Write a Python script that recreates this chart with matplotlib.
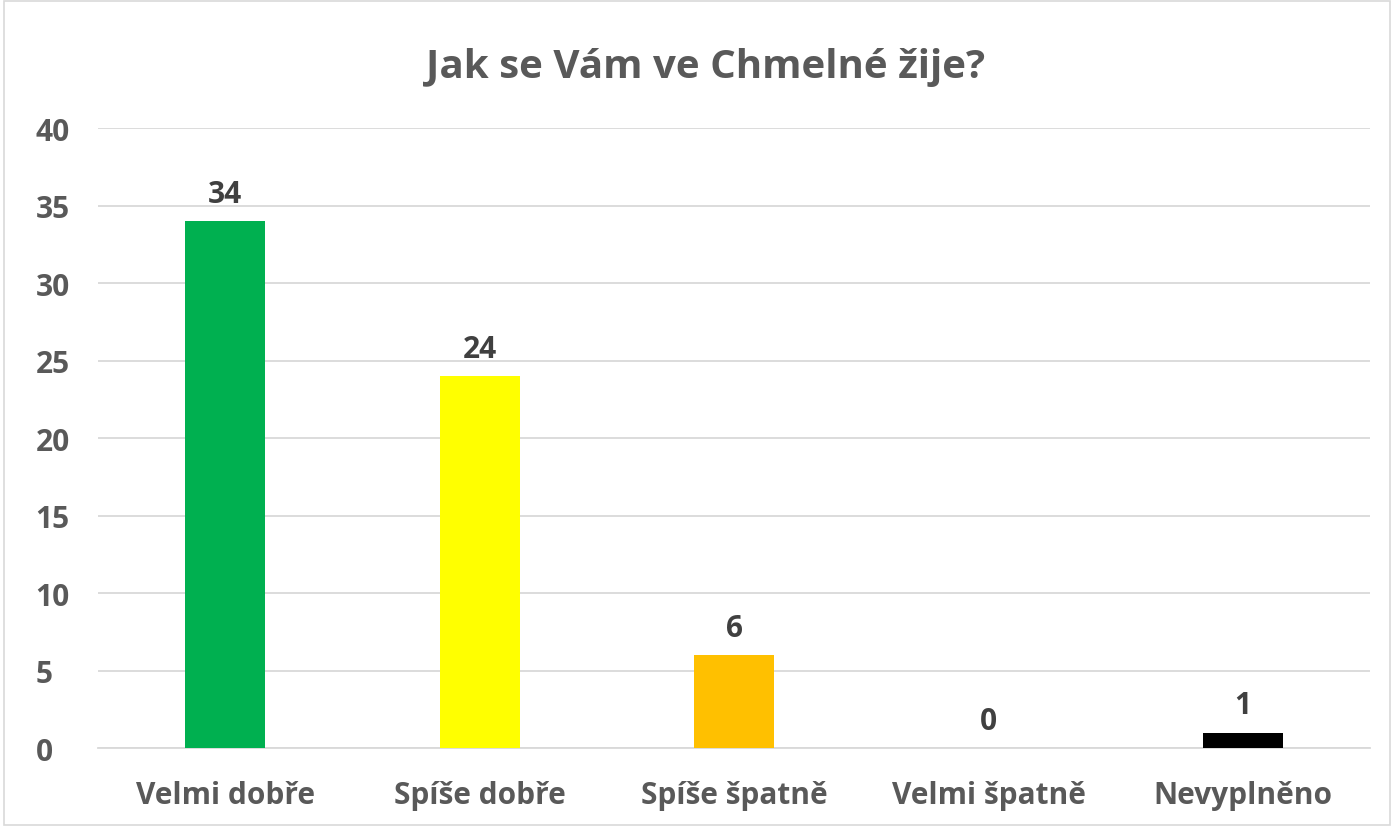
import matplotlib.pyplot as plt
from matplotlib.patches import Rectangle

# data
categories = ['Velmi dobře', 'Spíše dobře', 'Spíše špatně', 'Velmi špatně', 'Nevyplněno']
values = [34, 24, 6, 0, 1]
bar_colors = ['#00B050', '#FFFF00', '#FFC000', '#FFFFFF', '#000000']
yticks = [0, 5, 10, 15, 20, 25, 30, 35, 40]

plt.rcParams['font.family'] = ['Open Sans', 'DejaVu Sans']

fig = plt.figure(figsize=(13.94, 8.28), dpi=100)
ax = fig.add_axes([0.0703, 0.0954, 0.9127, 0.7486])

x = range(len(categories))
ax.bar(x, values, width=0.315, color=bar_colors, zorder=3)

for i, v in enumerate(values):
    ax.text(i, v + 0.8, str(v), ha='center', va='bottom',
            fontsize=21.5, fontweight='bold', color='#404040')

ax.set_xlim(-0.5, len(categories) - 0.5)
ax.set_ylim(0, 40)
ax.set_yticks(yticks)
ax.set_xticks(list(x))
ax.set_xticklabels(categories)
ax.tick_params(axis='both', length=0, labelsize=21.5, labelcolor='#595959')
ax.tick_params(axis='x', pad=23)
ax.tick_params(axis='y', pad=45)
for lab in ax.get_xticklabels() + ax.get_yticklabels():
    lab.set_fontweight('bold')
for lab in ax.get_yticklabels():
    lab.set_horizontalalignment('left')

ax.grid(axis='y', color='#D9D9D9', linewidth=1.3, zorder=0)
for s in ['top', 'right', 'left']:
    ax.spines[s].set_visible(False)
ax.spines['bottom'].set_color('#D9D9D9')
ax.spines['bottom'].set_linewidth(1.3)

fig.text(0.506, 0.918, 'Jak se Vám ve Chmelné žije?', ha='center', va='center',
         fontsize=29, fontweight='bold', color='#595959')

# outer border of the chart
fig.patches.append(Rectangle((0.003, 0.003), 0.994, 0.994, transform=fig.transFigure,
                             fill=False, edgecolor='#D9D9D9', linewidth=1.2))

fig.savefig('out.png', dpi=100)
